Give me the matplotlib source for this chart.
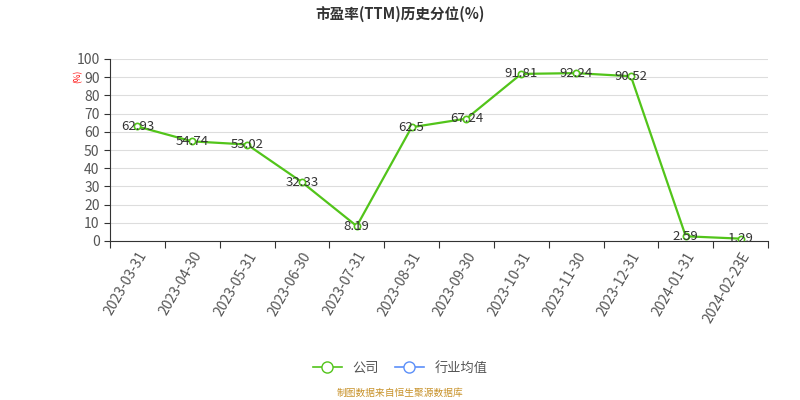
import matplotlib
matplotlib.use('Agg')
import matplotlib.pyplot as plt
from matplotlib.lines import Line2D

plt.rcParams['font.family'] = ['Noto Sans CJK SC', 'DejaVu Sans']

# Data
dates = ['2023-03-31', '2023-04-30', '2023-05-31', '2023-06-30', '2023-07-31',
         '2023-08-31', '2023-09-30', '2023-10-31', '2023-11-30', '2023-12-31',
         '2024-01-31', '2024-02-23E']
company = [62.93, 54.74, 53.02, 32.33, 8.19, 62.5, 67.24, 91.81, 92.24, 90.52, 2.59, 1.29]
labels = ['62.93', '54.74', '53.02', '32.33', '8.19', '62.5', '67.24', '91.81',
          '92.24', '90.52', '2.59', '1.29']

green = '#52c41a'
blue = '#5b8ff9'

fig = plt.figure(figsize=(8, 4), dpi=100)
ax = fig.add_axes([0.1375, 0.3975, 0.8225, 0.455])

x = list(range(len(dates)))
ax.plot(x, company, color=green, lw=1.6, marker='o', ms=4.5,
        markerfacecolor='white', markeredgecolor=green, markeredgewidth=1.2, zorder=3)
for xi, yi, lab in zip(x, company, labels):
    ax.text(xi, yi, lab, ha='center', va='center', fontsize=9.5, color='#333333', zorder=4)

ax.set_xlim(-0.5, len(dates) - 0.5)
ax.set_ylim(0, 100)
ax.set_yticks(range(0, 101, 10))
ax.set_xticks([i - 0.5 for i in range(len(dates) + 1)], minor=False)
ax.set_xticklabels([])
ax.set_xticks(x, minor=True)
ax.set_xticklabels(dates, minor=True, rotation=60, ha='right', rotation_mode='anchor',
                   fontsize=10, color='#555555')
ax.tick_params(axis='x', which='minor', length=0, pad=6)
ax.tick_params(axis='x', which='major', length=5, color='#333333')
ax.tick_params(axis='y', length=4, color='#333333', labelsize=10, labelcolor='#555555')
ax.grid(axis='y', color='#dddddd', lw=0.8)
ax.set_axisbelow(True)
for s in ['top', 'right']:
    ax.spines[s].set_visible(False)
ax.spines['left'].set_color('#333333')
ax.spines['bottom'].set_color('#333333')

fig.text(0.0975, 0.81, '(%)', rotation=90, color='red', fontsize=6, ha='center', va='center')
fig.text(0.5, 0.965, '市盈率(TTM)历史分位(%)', ha='center', va='center',
         fontsize=10.5, fontweight='bold', color='#333333')

handles = [Line2D([], [], color=green, marker='o', ms=8, markerfacecolor='white', lw=1.2),
           Line2D([], [], color=blue, marker='o', ms=8, markerfacecolor='white', lw=1.2)]
fig.legend(handles, ['公司', '行业均值'], loc='center', bbox_to_anchor=(0.5, 0.08),
           ncol=2, frameon=False, fontsize=9.5, handlelength=2.2, columnspacing=1.2,
           labelcolor='#555555')
fig.text(0.5, 0.018, '制图数据来自恒生聚源数据库', ha='center', va='center',
         fontsize=7, color='#c8922a')

fig.savefig('out.png')
